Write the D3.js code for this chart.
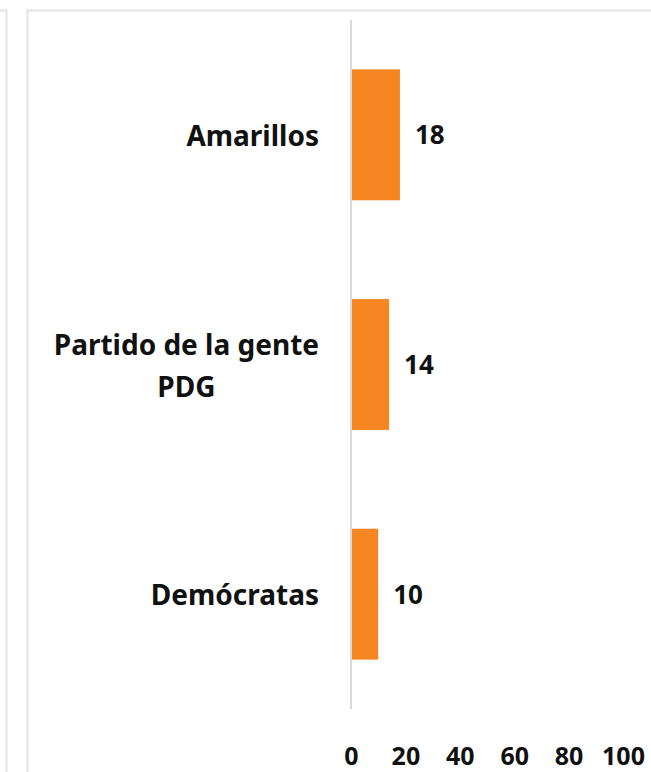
<!DOCTYPE html>
<html><head><meta charset="utf-8">
<script src="https://cdn.jsdelivr.net/npm/d3@7"></script>
<style>
html,body{margin:0;padding:0;background:#fff;overflow:hidden;}
text{font-family:"Noto Sans","Lato",sans-serif;font-weight:bold;fill:#111;}
</style></head>
<body>
<svg id="c" width="651" height="772"></svg>
<script>
const categories = [["Amarillos"], ["Partido de la gente", "PDG"], ["Demócratas"]];
const values = [18, 14, 10];
const tickValues = [0, 20, 40, 60, 80, 100];

const svg = d3.select("#c");
const fsLabel = 28, fsVal = 26, fsTick = 25;

// panel borders
svg.append("path").attr("d", "M0,10.5 H6.5 V772").attr("fill", "none").attr("stroke", "#e4e4e4").attr("stroke-width", 2);
svg.append("path").attr("d", "M27.5,772 V10.5 H651").attr("fill", "none").attr("stroke", "#e4e4e4").attr("stroke-width", 2);

const x = d3.scaleLinear().domain([0, 100]).range([351, 623]);
const y = d3.scaleBand().domain(d3.range(categories.length)).range([20, 709]).paddingInner(0.43).paddingOuter(0.215);

svg.selectAll("rect.bar").data(values).join("rect")
  .attr("class", "bar")
  .attr("x", x(0)).attr("y", (d, i) => y(i))
  .attr("width", d => x(d) - x(0)).attr("height", y.bandwidth())
  .attr("fill", "#F58621");

// axis line
svg.append("line").attr("x1", x(0)).attr("x2", x(0)).attr("y1", 20).attr("y2", 709)
  .attr("stroke", "#d9d9d9").attr("stroke-width", 2);

// value labels
svg.selectAll("text.val").data(values).join("text")
  .attr("class", "val")
  .attr("x", d => x(d) + 15).attr("y", (d, i) => y(i) + y.bandwidth() / 2)
  .attr("dy", "0.36em").attr("font-size", fsVal).text(d => d);

// category labels
const labelRight = 319;
const lineH = 42;
categories.forEach((lines, i) => {
  const g = svg.append("text").attr("font-size", fsLabel).attr("text-anchor", "middle");
  const cy = y(i) + y.bandwidth() / 2 + 1;
  const spans = lines.map((l, j) => g.append("tspan").text(l)
    .attr("y", cy + (j - (lines.length - 1) / 2) * lineH).attr("dy", "0.36em"));
  const maxW = d3.max(spans, s => s.node().getComputedTextLength());
  spans.forEach(s => s.attr("x", labelRight - maxW / 2));
});

// x axis tick labels
const ax = svg.append("g").attr("transform", "translate(0,756)")
  .call(d3.axisBottom(x).tickValues(tickValues).tickSize(0).tickPadding(0));
ax.select(".domain").remove();
ax.selectAll("text").attr("font-size", fsTick).attr("font-family", null).attr("dy", "0.36em").attr("y", 0).attr("fill", "#111");
</script>
</body></html>
